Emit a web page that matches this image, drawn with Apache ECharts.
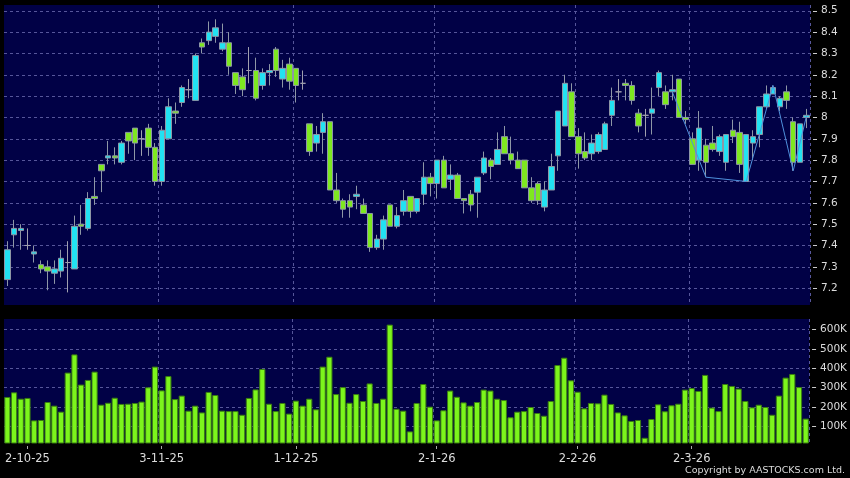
<!DOCTYPE html>
<html><head><meta charset="utf-8">
<script src="https://cdn.jsdelivr.net/npm/echarts@6/dist/echarts.min.js"></script>
<style>html,body{margin:0;padding:0;background:#000;}#c{width:850px;height:478px;}</style>
</head><body><div id="c"></div>
<script>
const dates = ['26-9-25','29-9-25','30-9-25','2-10-25','3-10-25','6-10-25','8-10-25','9-10-25','10-10-25','13-10-25',
'14-10-25','15-10-25','16-10-25','17-10-25','20-10-25','21-10-25','22-10-25','23-10-25','24-10-25','27-10-25',
'28-10-25','30-10-25','31-10-25','3-11-25','4-11-25','5-11-25','6-11-25','7-11-25','10-11-25','11-11-25',
'12-11-25','13-11-25','14-11-25','17-11-25','18-11-25','19-11-25','20-11-25','21-11-25','24-11-25','25-11-25',
'26-11-25','27-11-25','28-11-25','1-12-25','2-12-25','3-12-25','4-12-25','5-12-25','8-12-25','9-12-25',
'10-12-25','11-12-25','12-12-25','15-12-25','16-12-25','17-12-25','18-12-25','19-12-25','22-12-25','23-12-25',
'24-12-25','29-12-25','30-12-25','31-12-25','2-1-26','5-1-26','6-1-26','7-1-26','8-1-26','9-1-26',
'12-1-26','13-1-26','14-1-26','15-1-26','16-1-26','19-1-26','20-1-26','21-1-26','22-1-26','23-1-26',
'26-1-26','27-1-26','28-1-26','29-1-26','30-1-26','2-2-26','3-2-26','4-2-26','5-2-26','6-2-26',
'9-2-26','10-2-26','11-2-26','12-2-26','13-2-26','16-2-26','20-2-26','23-2-26','24-2-26','25-2-26',
'26-2-26','27-2-26','2-3-26','3-3-26','4-3-26','5-3-26','6-3-26','9-3-26','10-3-26','11-3-26',
'12-3-26','13-3-26','16-3-26','17-3-26','18-3-26','19-3-26','20-3-26','23-3-26','24-3-26','25-3-26'];

const openP = [7.24,7.45,7.47,7.40,7.36,7.31,7.30,7.27,7.28,7.32,
7.29,7.50,7.48,7.63,7.78,7.81,7.82,7.79,7.93,7.95,
7.90,7.95,7.86,7.70,7.90,8.03,8.07,8.13,8.08,8.35,
8.36,8.38,8.32,8.35,8.21,8.19,8.22,8.22,8.15,8.21,
8.32,8.18,8.25,8.23,8.16,7.97,7.88,7.93,7.98,7.66,
7.61,7.61,7.63,7.59,7.55,7.39,7.43,7.59,7.49,7.56,
7.63,7.56,7.64,7.72,7.69,7.80,7.71,7.73,7.62,7.64,
7.65,7.74,7.80,7.78,7.91,7.83,7.80,7.80,7.67,7.69,
7.58,7.66,7.82,7.96,8.12,7.91,7.84,7.83,7.84,7.85,
8.01,8.12,8.16,8.15,8.02,8.01,8.02,8.14,8.12,8.12,
8.18,8.00,7.90,7.80,7.87,7.88,7.84,7.79,7.94,7.93,
7.70,7.88,7.92,8.05,8.11,8.05,8.12,7.98,7.79,8.00];
const closeP = [7.38,7.48,7.48,7.40,7.37,7.29,7.28,7.29,7.34,7.32,
7.49,7.49,7.62,7.62,7.75,7.82,7.81,7.88,7.89,7.88,
7.90,7.86,7.70,7.94,8.05,8.02,8.14,8.13,8.29,8.33,
8.40,8.42,8.35,8.24,8.15,8.13,8.22,8.09,8.21,8.22,
8.22,8.23,8.17,8.15,8.16,7.84,7.92,7.98,7.66,7.61,
7.57,7.58,7.64,7.55,7.39,7.43,7.52,7.49,7.54,7.61,
7.56,7.62,7.72,7.69,7.80,7.67,7.73,7.62,7.61,7.59,
7.72,7.81,7.77,7.85,7.83,7.80,7.76,7.67,7.61,7.61,
7.66,7.77,8.03,8.16,7.91,7.83,7.81,7.88,7.92,7.97,
8.08,8.12,8.15,8.08,7.96,8.01,8.04,8.21,8.06,8.13,
8.00,7.99,7.78,7.95,7.79,7.85,7.91,7.92,7.91,7.78,
7.92,7.91,8.05,8.11,8.14,8.09,8.08,7.79,7.97,8.01];
const lowP = [7.21,7.39,7.38,7.38,7.32,7.27,7.19,7.22,7.25,7.18,
7.29,7.45,7.47,7.59,7.65,7.78,7.78,7.78,7.83,7.80,
7.82,7.82,7.68,7.68,7.90,7.97,8.05,8.09,8.08,8.30,
8.34,8.35,8.31,8.20,8.11,8.10,8.16,8.08,8.13,8.15,
8.19,8.14,8.13,8.07,8.13,7.82,7.84,7.83,7.66,7.60,
7.53,7.53,7.57,7.55,7.37,7.38,7.38,7.49,7.48,7.54,
7.53,7.55,7.59,7.63,7.62,7.67,7.66,7.62,7.55,7.56,
7.53,7.73,7.71,7.78,7.83,7.78,7.76,7.67,7.60,7.59,
7.56,7.66,7.75,7.96,7.91,7.76,7.80,7.80,7.83,7.85,
7.96,8.08,8.08,8.06,7.93,7.91,7.92,8.10,8.04,8.08,
8.00,7.97,7.78,7.75,7.72,7.84,7.82,7.75,7.88,7.74,
7.70,7.80,7.86,8.04,8.11,8.03,8.04,7.75,7.79,7.95];
const highP = [7.42,7.52,7.50,7.48,7.40,7.33,7.33,7.33,7.38,7.42,
7.54,7.59,7.65,7.72,7.78,7.89,7.86,7.89,7.93,7.95,
7.94,7.97,7.88,7.96,8.09,8.07,8.15,8.18,8.30,8.37,
8.45,8.46,8.44,8.40,8.21,8.23,8.33,8.28,8.23,8.25,
8.33,8.27,8.28,8.23,8.22,7.97,7.96,8.02,7.98,7.74,
7.62,7.64,7.68,7.62,7.55,7.45,7.54,7.59,7.58,7.66,
7.63,7.62,7.79,7.74,7.80,7.82,7.78,7.74,7.62,7.66,
7.72,7.84,7.81,7.93,7.96,7.91,7.84,7.80,7.72,7.70,
7.70,7.83,8.03,8.20,8.16,7.95,7.93,7.92,7.93,7.98,
8.14,8.18,8.18,8.17,8.04,8.04,8.14,8.22,8.15,8.20,
8.18,8.03,7.93,8.03,7.90,7.96,7.92,7.92,7.99,7.98,
7.92,7.94,8.05,8.15,8.15,8.10,8.15,8.00,7.97,8.04];
const volumeK = [252,276,243,247,131,133,226,207,176,378,
472,316,340,383,212,222,248,216,217,221,
228,302,409,286,360,241,259,181,207,172,
278,262,181,179,179,160,247,291,397,217,
179,221,166,233,207,243,188,409,460,267,
303,222,267,231,322,221,243,626,191,181,
74,221,319,202,131,183,285,253,224,207,
226,290,285,243,236,147,176,179,200,169,
155,231,417,455,338,279,193,221,219,264,
216,172,157,128,133,41,138,214,178,209,
217,290,298,283,366,197,179,319,309,295,
231,198,212,200,160,259,352,371,303,140];

const zigzagDates = ['25-2-26','4-3-26','12-3-26','18-3-26','23-3-26','25-3-26'];
const zigzagValues = [8.12,7.72,7.70,8.15,7.75,8.01];

const monthStart = new Set();
dates.forEach((d, i) => { if (i > 0 && d.split('-')[1] !== dates[i-1].split('-')[1]) monthStart.add(i); });

const GRIDC = '#56569a';
const TXT = '#dcdcdc';
const FONT = 'DejaVu Sans';
const T = 'rgba(0,0,0,0)';

const chart = echarts.init(document.getElementById('c'), null, {renderer: 'canvas'});
const xCommon = {
  type: 'category', data: dates, boundaryGap: true,
  axisLine: {show: false},
  splitLine: {show: true, interval: (i) => monthStart.has(i),
    lineStyle: {color: [T, GRIDC, GRIDC, GRIDC, GRIDC, GRIDC, GRIDC], type: [3, 3], width: 1}}
};
chart.setOption({
  animation: false,
  backgroundColor: '#000000',
  grid: [
    {left: 4, right: 40, top: 5, height: 300, show: true, backgroundColor: '#010146', borderWidth: 0},
    {left: 4, right: 40, top: 319, height: 124, show: true, backgroundColor: '#010146', borderWidth: 0}
  ],
  xAxis: [
    Object.assign({}, xCommon, {gridIndex: 0, axisLabel: {show: false}, axisTick: {show: false}}),
    Object.assign({}, xCommon, {gridIndex: 1, offset: 3,
      axisTick: {show: true, alignWithLabel: true, length: 3, interval: (i) => monthStart.has(i), lineStyle: {color: '#aaaaaa'}},
      axisLabel: {show: true, interval: (i) => monthStart.has(i), color: TXT, fontFamily: FONT, fontSize: 11.5, margin: 7}})
  ],
  yAxis: [
    {type: 'value', gridIndex: 0, position: 'right', min: 7.121, max: 8.527, splitNumber: 14, offset: 3,
     axisLine: {show: false},
     axisTick: {show: true, length: 4, lineStyle: {color: '#cccccc'}},
     axisLabel: {color: TXT, fontFamily: FONT, fontSize: 10.5, margin: 8, showMinLabel: false, showMaxLabel: false,
       formatter: (v) => Math.abs(v * 10 - Math.round(v * 10)) < 0.01 ? String(Math.round(v * 10) / 10) : ''},
     splitLine: {show: true, lineStyle: {color: [T, GRIDC, GRIDC, GRIDC, GRIDC, GRIDC, GRIDC, GRIDC, GRIDC, GRIDC, GRIDC, GRIDC, GRIDC, GRIDC, GRIDC], type: [3, 3]}}},
    {type: 'value', gridIndex: 1, position: 'right', min: 14000, max: 655000, splitNumber: 6, offset: 3,
     axisLine: {show: false},
     axisTick: {show: true, length: 4, lineStyle: {color: '#cccccc'}},
     axisLabel: {color: TXT, fontFamily: FONT, fontSize: 10.5, margin: 8, showMinLabel: false, showMaxLabel: false,
       formatter: (v) => Math.abs(v / 100000 - Math.round(v / 100000)) < 1e-6 ? Math.round(v / 1000) + 'K' : ''},
     splitLine: {show: true, lineStyle: {color: [T, GRIDC, GRIDC, GRIDC, GRIDC, GRIDC, GRIDC], type: [3, 3]}}}
  ],
  series: [
    {type: 'candlestick', xAxisIndex: 0, yAxisIndex: 0, barWidth: 6,
     data: dates.map((d, i) => [openP[i], closeP[i], lowP[i], highP[i]]),
     itemStyle: {color: '#22e2f2', color0: '#7ee820', borderColor: '#8e97a6', borderColor0: '#8e97a6', borderColorDoji: '#a0a0ae', borderWidth: 1}},
    {type: 'line', xAxisIndex: 0, yAxisIndex: 0, symbol: 'none', z: 5,
     data: zigzagDates.map((d, i) => [d, zigzagValues[i]]),
     lineStyle: {color: '#4f90dc', width: 1}},
    {type: 'bar', xAxisIndex: 1, yAxisIndex: 1, barCategoryGap: '8%',
     data: volumeK.map(v => v * 1000),
     itemStyle: {color: '#7cf51c', borderColor: '#3a7d12', borderWidth: 1}}
  ],
  graphic: [
    {type: 'text', right: 5, top: 466, style: {text: 'Copyright by AASTOCKS.com Ltd.', fill: '#dcdcdc', font: '9.5px "DejaVu Sans"'}}
  ]
});
</script></body></html>
